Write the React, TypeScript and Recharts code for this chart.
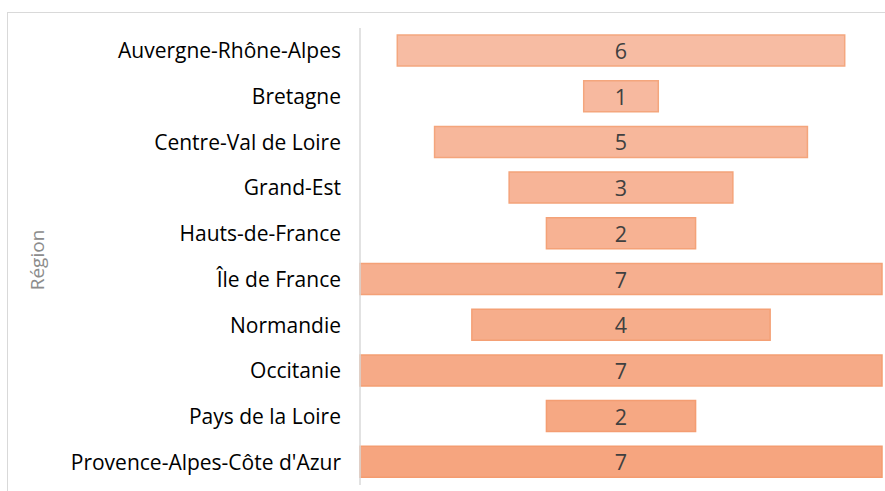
import React from 'react';
import { BarChart, Bar, XAxis, YAxis, Cell, LabelList } from 'recharts';

const regions = [
  'Auvergne-Rhône-Alpes',
  'Bretagne',
  'Centre-Val de Loire',
  'Grand-Est',
  'Hauts-de-France',
  'Île de France',
  'Normandie',
  'Occitanie',
  'Pays de la Loire',
  "Provence-Alpes-Côte d'Azur",
];

const counts = [6, 1, 5, 3, 2, 7, 4, 7, 2, 7];

const maxCount = 7;

// funnel: an invisible spacer on the left centres each bar
const chartData = regions.map((name, i) => ({
  name,
  spacer: (maxCount - counts[i]) / 2,
  value: counts[i],
}));

// fill gets a little darker from top to bottom
const mix = (a: number[], b: number[], t: number) =>
  `rgb(${a.map((c, k) => Math.round(c + (b[k] - c) * t)).join(',')})`;
const topFill = [247, 188, 163];
const bottomFill = [246, 165, 127];
const topStroke = [244, 167, 127];
const bottomStroke = [244, 156, 112];

const font = '"Open Sans", sans-serif';

const ValueLabel = (props: any) => {
  const { x, y, width, height, value } = props;
  return (
    <text
      x={Number(x) + Number(width) / 2}
      y={Number(y) + Number(height) / 2}
      textAnchor="middle"
      dominantBaseline="central"
      fill="#404040"
      fontSize={21.5}
      fontFamily={font}
    >
      {value}
    </text>
  );
};

const App: React.FC = () => {
  return (
    <div style={{ position: 'absolute', left: 0, top: 0, width: 885, height: 491, background: '#fff', overflow: 'hidden' }}>
      {/* chart frame */}
      <div
        style={{
          position: 'absolute',
          left: 7,
          top: 12,
          width: 900,
          height: 500,
          border: '1px solid #D9D9D9',
          boxSizing: 'border-box',
        }}
      />
      <div
        style={{
          position: 'absolute',
          left: 37,
          top: 260,
          transform: 'translate(-50%, -50%) rotate(-90deg)',
          fontFamily: font,
          fontSize: 19,
          color: '#8C8C8C',
          whiteSpace: 'nowrap',
        }}
      >
        Région
      </div>
      <div style={{ position: 'absolute', left: 0, top: 0 }}>
        <BarChart
          width={885}
          height={491}
          data={chartData}
          layout="vertical"
          margin={{ top: 28, right: 3, bottom: 6, left: 0 }}
          barSize={31}
        >
          <XAxis type="number" domain={[0, maxCount]} hide />
          <YAxis
            type="category"
            dataKey="name"
            width={360}
            tickLine={false}
            tickSize={0}
            tickMargin={19}
            axisLine={{ stroke: '#D9D9D9', strokeWidth: 1.5 }}
            tick={{ fill: '#000', fontSize: 21, fontFamily: font }}
            interval={0}
          />
          <Bar dataKey="spacer" stackId="f" fill="transparent" isAnimationActive={false} />
          <Bar dataKey="value" stackId="f" isAnimationActive={false} strokeWidth={1.5}>
            {chartData.map((_, i) => {
              const t = i / (chartData.length - 1);
              return <Cell key={i} fill={mix(topFill, bottomFill, t)} stroke={mix(topStroke, bottomStroke, t)} />;
            })}
            <LabelList dataKey="value" content={ValueLabel} />
          </Bar>
        </BarChart>
      </div>
    </div>
  );
};

export default App;
